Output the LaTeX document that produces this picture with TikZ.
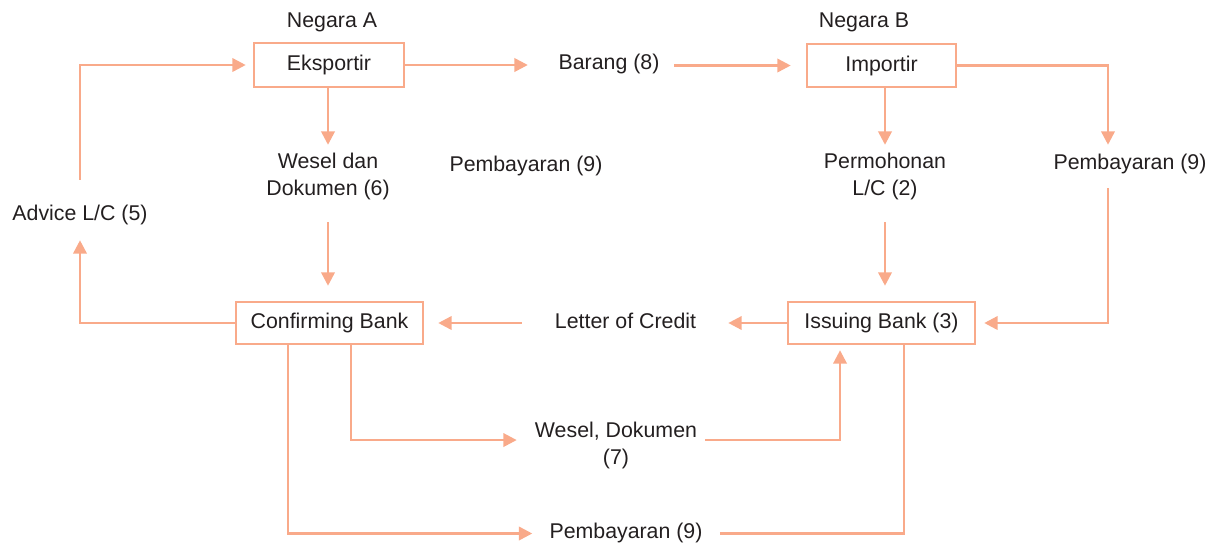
\documentclass[tikz,border=0pt]{standalone}
\usepackage{fontspec}
\setmainfont{Liberation Sans}
\usetikzlibrary{arrows.meta}
\definecolor{salmon}{RGB}{249,170,138}
\definecolor{ink}{RGB}{35,31,32}
\begin{document}
\begin{tikzpicture}[x=0.75pt,y=-0.75pt,
    font=\fontsize{16}{20.25}\selectfont, text=ink,
    box/.style={draw=salmon, line width=1.9pt, inner sep=0pt},
    lbl/.style={inner sep=0pt, text height=11.6pt, text depth=3.4pt},
    two/.style={inner sep=0pt, align=center},
    arr/.style={salmon, line width=1.9pt, -{Triangle[length=10pt,width=10pt]}},
    ln/.style={salmon, line width=1.9pt}]
    \useasboundingbox (0,0) rectangle (1210,544);
    \node [lbl] (negA) at (332,22) {Negara A};
    \node [lbl] (negB) at (864,22) {Negara B};
    \node [box, minimum width=112.5pt, minimum height=33pt] (eks) at (329,65) {Eksportir};
    \node [box, minimum width=111.75pt, minimum height=32.25pt] (imp) at (881.5,65.5) {Importir};
    \node [box, minimum width=140.25pt, minimum height=31.5pt] (conf) at (329.5,323) {Confirming Bank};
    \node [box, minimum width=140.25pt, minimum height=31.5pt] (iss) at (881.5,323) {Issuing Bank (3)};
    \node [lbl] (barang) at (609,64) {Barang (8)};
    \node [two] (wesel6) at (328,176.5) {Wesel dan\\Dokumen (6)};
    \node [lbl] (pembm) at (526,166) {Pembayaran (9)};
    \node [two] (perm) at (885,176.5) {Permohonan\\L/C (2)};
    \node [lbl] (pembr) at (1130,164) {Pembayaran (9)};
    \node [lbl] (advice) at (80,215) {Advice L/C (5)};
    \node [lbl] (loc) at (625.5,323) {Letter of Credit};
    \node [two] (wesel7) at (616,445.5) {Wesel, Dokumen\\(7)};
    \node [lbl] (pembb) at (626,533.5) {Pembayaran (9)};
    \draw [arr, shorten <=18.75pt, shorten >=5.25pt] (advice.north) |- (eks.west);
    \draw [arr, shorten >=11.25pt] (conf.west) -| (advice.south);
    \draw [arr, shorten >=22.9pt] (eks.east) -- (eks.east -| barang.west);
    \draw [arr, shorten <=10.9pt, shorten >=11.25pt] (barang.east |- imp.west) -- (imp.west);
    \draw [arr, shorten >=6pt] (wesel6.north |- eks.south) -- (wesel6.north);
    \draw [arr, shorten <=16.5pt, shorten >=11.25pt] (wesel6.south) -- (wesel6.south |- conf.north);
    \draw [arr, shorten >=6pt] (perm.north |- imp.south) -- (perm.north);
    \draw [arr, shorten <=16.5pt, shorten >=11.25pt] (perm.south) -- (perm.south |- iss.north);
    \draw [arr, shorten >=6.75pt] (imp.east) -| ([xshift=-16.5pt]pembr.north);
    \draw [arr, shorten <=10.5pt, shorten >=6pt] ([xshift=-16.5pt]pembr.south) |- (iss.east);
    \draw [arr, shorten >=24pt] (iss.west) -- (iss.west -| loc.east);
    \draw [arr, shorten <=24.75pt, shorten >=10.5pt] (loc.west |- conf.east) -- (conf.east);
    \draw [arr, shorten >=13.5pt] ([xshift=16.1pt]conf.south) |- ([yshift=4.1pt]wesel7.west);
    \draw [arr, shorten <=6pt, shorten >=3.75pt] ([yshift=4.1pt]wesel7.east) -| ([xshift=-31.1pt]iss.south);
    \draw [arr, shorten >=12.75pt] ([xshift=-31.1pt]conf.south) |- (pembb.west);
    \draw [ln, shorten <=12.75pt] (pembb.east) -| ([xshift=16.9pt]iss.south);
\end{tikzpicture}
\end{document}
